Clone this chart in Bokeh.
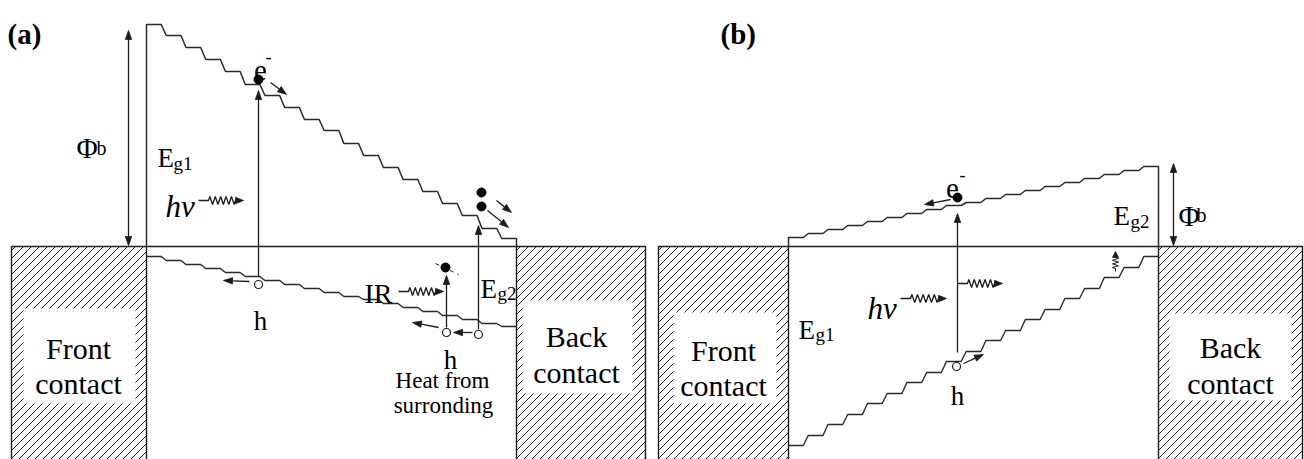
import math
import numpy as np
from bokeh.plotting import figure
from bokeh.models import Range1d
from bokeh.core.properties import value
from bokeh.embed import file_html
from bokeh.resources import INLINE

# ---------------- diagram data (drawing units = reference pixels) ----------------
# band-edge step levels (one entry per terrace)
cb_a = [24, 35, 47, 59, 71, 84, 95, 107, 119, 130, 143, 155, 167, 179, 191, 203, 215, 228, 238]
vb_a = [256, 260, 264, 268, 272, 276, 280, 284, 288, 292, 296, 299, 303, 307, 311, 315, 319, 323, 326]
cb_b = [237, 233, 229, 225, 221, 217, 213, 209, 205, 202, 198, 194, 190, 186, 182, 178, 174, 170, 166]
vb_b = [445, 435, 424, 414, 403, 393, 382, 372, 361, 351, 340, 330, 319, 309, 298, 288, 277, 267, 256]

band_x_a = [146, 516]
band_x_b = [788, 1158]
fermi_y = 246

# metal contacts
contact_left = [11, 516, 658, 1158]
contact_right = [146, 645, 788, 1302]
inner_left = [23, 522, 673, 1169]
inner_right = [135, 632, 776, 1291]
inner_top = [308, 300, 312, 313]
inner_bottom = [403, 393, 403, 400]
contact_word1 = ["Front", "Back", "Front", "Back"]
contact_word2 = ["contact", "contact", "contact", "contact"]
contact_cx = [78, 576, 723, 1230]
contact_y1 = [348, 336, 350, 347]
contact_y2 = [383, 372, 385, 383]

# carriers
electron_x = [258, 481, 481, 445, 957]
electron_y = [79, 192, 206, 267, 197]
hole_x = [258, 446, 478, 956]
hole_y = [284, 332, 334, 366]

# straight arrows: (x_from, y_from, x_to, y_to)
arrows = [
    (258, 276, 258, 90), (249, 281, 223, 280), (270, 82, 286, 94),
    (496, 200, 511, 212), (487, 210, 508, 227), (478, 329, 478, 225),
    (446, 327, 446, 275), (472, 332, 453, 332), (438, 327, 412, 322),
    (957, 352, 957, 213), (950, 199, 924, 204), (963, 363, 983, 354),
]
double_arrows = [(128, 30, 128, 245), (1173, 163, 1173, 245)]
# wavy (photon) arrows: (x_start, x_end, y)
wavy = [(198, 243, 200), (398, 443, 291), (900, 946, 298), (957, 1002, 283)]

# labels
sub_labels = [  # (main, sub, x, baseline, sub_x, sub_baseline)
    ("E", "g1", 157, 157, 173, 163),
    ("E", "g2", 480, 288, 497, 293),
    ("E", "g1", 798, 329, 815, 334),
    ("E", "g2", 1113, 215, 1130, 221),
]
phi_x = [76, 1178]
phi_base = [147, 215]
b_x = [96, 1196]
b_base = [147, 214]

SERIF = value("Liberation Serif")
INK = "#1c1c1c"

p = figure(width=1304, height=459, x_range=Range1d(0, 1304), y_range=Range1d(459, 0),
           output_backend="svg", toolbar_location=None, x_axis_type=None, y_axis_type=None,
           min_border=0)
p.outline_line_color = None
p.background_fill_color = "white"
p.border_fill_color = "white"


def stair(x0, x1, levels, r=5.0):
    n = len(levels)
    P = (x1 - x0 + r) / n
    f = P - r
    xs, ys = [], []
    for i, L in enumerate(levels):
        xs += [x0 + i * P, x0 + i * P + f]
        ys += [L, L]
    return xs, ys


def head(xt, yt, xf, yf, L=9.0, w=3.2):
    dx, dy = xt - xf, yt - yf
    d = math.hypot(dx, dy)
    ux, uy = dx / d, dy / d
    bx, by = xt - ux * L, yt - uy * L
    px, py = -uy, ux
    return [xt, bx + px * w, bx - px * w], [yt, by + py * w, by - py * w]


heads_x, heads_y = [], []

# ---------- contacts: hatching ----------
hx0, hy0, hx1, hy1 = [], [], [], []
for l, r in zip(contact_left, contact_right):
    top, bot = fermi_y, 470
    for c in np.arange(l + top + 4, r + bot + 8, 8.0):
        xa = max(l, c - bot)
        xb = min(r, c - top)
        if xa < xb:
            hx0.append(xa); hy0.append(c - xa); hx1.append(xb); hy1.append(c - xb)
p.segment(x0=hx0, y0=hy0, x1=hx1, y1=hy1, line_color=INK, line_width=1)
p.quad(left=inner_left, right=inner_right, top=inner_top, bottom=inner_bottom,
       fill_color="white", line_color=None)
# contact borders
p.multi_line(xs=[[l, l, r, r] for l, r in zip(contact_left, contact_right)],
             ys=[[470, fermi_y, fermi_y, 470] for _ in contact_left],
             line_color=INK, line_width=1.4)

# ---------- bands ----------
p.line([band_x_a[0], band_x_a[1]], [fermi_y, fermi_y], line_color=INK, line_width=1.4)
p.line([band_x_b[0], band_x_b[1]], [fermi_y, fermi_y], line_color=INK, line_width=1.4)

for (x0, x1), cb, vb in [(band_x_a, cb_a, vb_a), (band_x_b, cb_b, vb_b)]:
    xs, ys = stair(x0, x1, cb)
    xs = [x0] + xs + [x1]
    ys = [fermi_y] + ys + [fermi_y]
    p.line(xs, ys, line_color="#2a2a2a", line_width=1.5)
    xs, ys = stair(x0, x1, vb)
    p.line(xs, ys, line_color="#2a2a2a", line_width=1.4)

# ---------- arrows ----------
for (xf, yf, xt, yt) in arrows:
    hx, hy = head(xt, yt, xf, yf)
    p.line([xf, (hx[1] + hx[2]) / 2], [yf, (hy[1] + hy[2]) / 2], line_color=INK, line_width=1.3)
    heads_x.append(hx); heads_y.append(hy)

for (x0, y0, x1, y1) in double_arrows:
    p.line([x0, x1], [y0 + 8, y1 - 8], line_color=INK, line_width=1.3)
    hx, hy = head(x0, y0, x1, y1); heads_x.append(hx); heads_y.append(hy)
    hx, hy = head(x1, y1, x0, y0); heads_x.append(hx); heads_y.append(hy)

for (xs_, xe_, y) in wavy:
    lead = 10
    z0, z1 = xs_ + lead, xe_ - 8
    n = 10
    px_ = [xs_, z0]
    py_ = [y, y]
    for k in range(n):
        px_.append(z0 + (k + 0.5) * (z1 - z0) / n)
        py_.append(y - 4 if k % 2 == 0 else y + 4)
    px_.append(z1); py_.append(y)
    p.line(px_, py_, line_color=INK, line_width=1.3)
    hx, hy = head(xe_, y, z1, y, L=8, w=3.2); heads_x.append(hx); heads_y.append(hy)

# small vertical wavy arrow (panel b)
vx, vy0, vy1 = 1115, 271, 251
zy0, zy1 = vy0 - 3, vy1 + 6
vpx, vpy = [vx, vx], [vy0, zy0]
for k in range(6):
    vpy.append(zy0 + (k + 0.5) * (zy1 - zy0) / 6)
    vpx.append(vx - 3 if k % 2 == 0 else vx + 3)
vpx.append(vx); vpy.append(zy1)
p.line(vpx, vpy, line_color=INK, line_width=1.0)
hx, hy = head(vx, vy1, vx, zy1, L=6, w=3); heads_x.append(hx); heads_y.append(hy)

p.patches(xs=heads_x, ys=heads_y, fill_color=INK, line_color=INK, line_width=0.8)

# motion mark through IR-excited electron
p.line([435, 458], [263, 274], line_color=INK, line_width=1.0, line_dash="4 4")

# ---------- carriers ----------
p.scatter(x=electron_x, y=electron_y, size=9, marker="circle", fill_color="black", line_color="black")
p.scatter(x=hole_x, y=hole_y, size=8, marker="circle", fill_color="white", line_color=INK, line_width=1.2)

# ---------- texts ----------
p.text(x=[7, 720], y=[33, 33], text=["(a)", "(b)"], text_font=SERIF, text_font_size=value("29px"),
       text_font_style="bold", text_align="left", text_baseline="alphabetic", text_color="black")
p.text(x=contact_cx, y=contact_y1, text=contact_word1, text_font=SERIF, text_font_size=value("30px"),
       text_align="center", text_baseline="alphabetic", text_color="black")
p.text(x=contact_cx, y=contact_y2, text=contact_word2, text_font=SERIF, text_font_size=value("30px"),
       text_align="center", text_baseline="alphabetic", text_color="black")
p.text(x=[s[2] for s in sub_labels], y=[s[3] for s in sub_labels], text=[s[0] for s in sub_labels],
       text_font=SERIF, text_font_size=value("27px"), text_align="left", text_baseline="alphabetic",
       text_color="black")
p.text(x=[s[4] for s in sub_labels], y=[s[5] for s in sub_labels], text=[s[1] for s in sub_labels],
       text_font=SERIF, text_font_size=value("19px"), text_align="left", text_baseline="alphabetic",
       text_color="black")
p.text(x=phi_x, y=phi_base, text=["Φ", "Φ"], text_font=SERIF, text_font_size=value("29px"),
       text_align="left", text_baseline="alphabetic", text_color="black")
p.text(x=b_x, y=b_base, text=["b", "b"], text_font=SERIF, text_font_size=value("20px"),
       text_align="left", text_baseline="alphabetic", text_color="black")
p.text(x=[165, 867], y=[206, 308], text=["hv", "hv"], text_font=SERIF, text_font_size=value("31px"),
       text_font_style="italic", text_align="left", text_baseline="alphabetic", text_color="black")
p.text(x=[260, 952], y=[70, 188], text=["e", "e"], text_font=SERIF, text_font_size=value("29px"),
       text_align="center", text_baseline="alphabetic", text_color="black")
p.text(x=[265, 959], y=[56, 174], text=["-", "-"], text_font=SERIF, text_font_size=value("18px"),
       text_align="left", text_baseline="alphabetic", text_color="black")
p.text(x=[260, 450, 957], y=[320, 359, 395], text=["h", "h", "h"], text_font=SERIF,
       text_font_size=value("27px"), text_align="center", text_baseline="alphabetic", text_color="black")
p.text(x=[364], y=[293], text=["IR"], text_font=SERIF, text_font_size=value("28px"),
       text_align="left", text_baseline="alphabetic", text_color="black")
p.text(x=[442, 443], y=[380, 405], text=["Heat from", "surronding"], text_font=SERIF,
       text_font_size=value("23px"), text_align="center", text_baseline="alphabetic", text_color="black")

open("out.html", "w").write(file_html(p, INLINE))
